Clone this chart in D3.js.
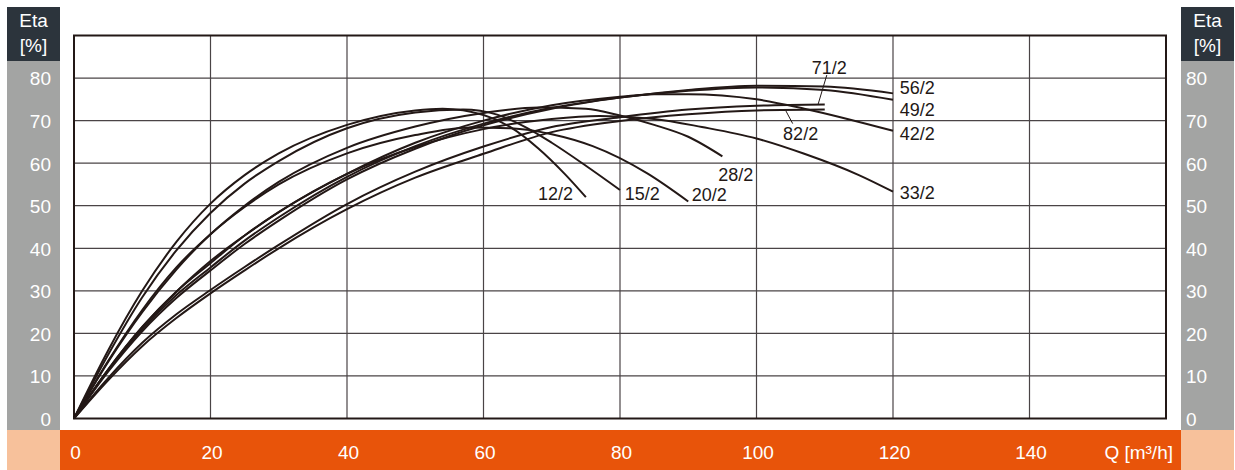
<!DOCTYPE html>
<html>
<head>
<meta charset="utf-8">
<script src="https://cdn.jsdelivr.net/npm/d3@7"></script>
<style>
html,body{margin:0;padding:0;background:#fff;}
svg{display:block;font-family:"Liberation Sans",Arial,sans-serif;}
</style>
</head>
<body>
<svg id="chart" width="1235" height="470"></svg>
<script>
// ---- data ----
const xTicks = [0, 20, 40, 60, 80, 100, 120, 140];
const yTicks = [0, 10, 20, 30, 40, 50, 60, 70, 80];
const xTitle = "Q [m³/h]";
const yTitle = ["Eta", "[%]"];
const seriesNames = ["12/2", "15/2", "20/2", "28/2", "33/2", "42/2", "49/2", "56/2", "71/2", "82/2"];

const q_12 = [0, 5, 10, 15, 20, 25, 30, 40, 50, 54, 60, 64, 68, 72, 75];
const eta_12 = [0, 16, 30, 41.5, 50.5, 57.2, 62.3, 69, 72.4, 72.8, 71.3, 68.4, 63.5, 57.3, 52];
const q_15 = [0, 5, 10, 15, 20, 25, 30, 40, 50, 57, 62, 66, 70, 75, 80];
const eta_15 = [0, 15, 28.5, 39.5, 48.3, 55.2, 60.5, 68.2, 71.9, 72.6, 71.4, 68.6, 64.8, 59.4, 53.7];
const q_20 = [0, 5, 10, 15, 20, 25, 30, 40, 50, 58, 64, 70, 76, 84, 90];
const eta_20 = [0, 13.5, 25.5, 35.5, 43.3, 49.7, 55, 62.3, 66.6, 68.4, 68.2, 66.8, 64, 57.6, 51];
const q_28 = [0, 5, 10, 15, 20, 25, 30, 40, 50, 60, 68, 75, 80, 85, 90, 95];
const eta_28 = [0, 13.3, 25, 35, 43.3, 50, 55.6, 63.6, 68.6, 71.8, 73.1, 72.8, 71.2, 69, 66.2, 61.6];
const q_33 = [0, 5, 10, 15, 20, 25, 30, 40, 50, 60, 70, 77, 85, 92, 100, 107, 115, 120];
const eta_33 = [0, 11.5, 21.5, 29.8, 37, 43, 48.5, 57.5, 63.8, 68, 70.4, 71.1, 70.4, 68.5, 65.8, 62.2, 57.2, 53.3];
const q_42 = [0, 5, 10, 15, 20, 25, 30, 40, 50, 60, 70, 80, 85, 90, 100, 107, 120];
const eta_42 = [0, 11.5, 21.5, 29.8, 36.5, 43, 48.5, 57.5, 64.8, 70, 73.6, 75.6, 76.2, 76.2, 75, 72.8, 67.6];
const q_49 = [0, 5, 10, 15, 20, 25, 30, 40, 50, 60, 70, 80, 90, 100, 110, 120];
const eta_49 = [0, 11.3, 21, 29, 35.5, 41.8, 47.3, 56.8, 64, 69.3, 73, 75.4, 77, 77.8, 77.2, 74.9];
const q_56 = [0, 5, 10, 15, 20, 25, 30, 40, 50, 60, 70, 80, 90, 100, 110, 120];
const eta_56 = [0, 11, 20.5, 28.3, 34.8, 41, 46.5, 56.2, 63.4, 68.9, 72.8, 75.4, 77.2, 78.2, 78, 76.4];
const q_71 = [0, 5, 10, 15, 20, 25, 30, 40, 50, 60, 70, 80, 90, 100, 110];
const eta_71 = [0, 9.5, 17.8, 24.5, 30.2, 35.6, 40.8, 50.4, 58, 63.9, 68.5, 70.8, 72.6, 73.5, 73.8];
const q_82 = [0, 5, 10, 15, 20, 25, 30, 40, 50, 60, 70, 80, 90, 100, 110];
const eta_82 = [0, 9, 17, 23.6, 29.4, 34.8, 40, 49.2, 56.6, 62.2, 67.3, 69.9, 71.5, 72.4, 72.6];

const qs = [q_12, q_15, q_20, q_28, q_33, q_42, q_49, q_56, q_71, q_82];
const etas = [eta_12, eta_15, eta_20, eta_28, eta_33, eta_42, eta_49, eta_56, eta_71, eta_82];

// label anchor points (Q, eta)
const labelQ = [68.0, 80.7, 90.5, 94.4, 121, 121, 121, 121, 108.1, 103.9];
const labelEta = [51.3, 51.3, 51.1, 55.8, 51.6, 65.4, 71.2, 76.25, 80.95, 65.4];

// ---- layout ----
const svg = d3.select("#chart");
const x = d3.scaleLinear().domain([0, 160]).range([74, 1166]);
const y = d3.scaleLinear().domain([0, 90]).range([418.5, 35.5]);

const C = {
  dark: "#2c343c", gray: "#a3a4a3", orange: "#e8540a", peach: "#f7c19b",
  line: "#231816", grid: "#4a4446"
};

// side panels
[[7, 60], [1181, 1234]].forEach(([x0, x1]) => {
  svg.append("rect").attr("x", x0).attr("y", 7).attr("width", x1 - x0).attr("height", 54).attr("fill", C.dark);
  svg.append("rect").attr("x", x0).attr("y", 61).attr("width", x1 - x0).attr("height", 369).attr("fill", C.gray);
  svg.append("rect").attr("x", x0).attr("y", 430).attr("width", x1 - x0).attr("height", 40).attr("fill", C.peach);
  const cx = (x0 + x1) / 2;
  svg.append("text").attr("x", cx).attr("y", 27).attr("text-anchor", "middle")
    .attr("fill", "#fff").attr("font-size", 19).text(yTitle[0]);
  svg.append("text").attr("x", cx).attr("y", 52).attr("text-anchor", "middle")
    .attr("fill", "#fff").attr("font-size", 19).text(yTitle[1]);
});
svg.append("rect").attr("x", 60).attr("y", 430).attr("width", 1121).attr("height", 40).attr("fill", C.orange);

// grid
const g = svg.append("g");
g.selectAll("line.h").data(yTicks.filter(d => d > 0)).join("line")
  .attr("x1", x(0)).attr("x2", x(160)).attr("y1", d => y(d)).attr("y2", d => y(d))
  .attr("stroke", C.grid).attr("stroke-width", 1.2);
g.selectAll("line.v").data(xTicks.filter(d => d > 0)).join("line")
  .attr("x1", d => x(d)).attr("x2", d => x(d)).attr("y1", y(0)).attr("y2", y(90))
  .attr("stroke", C.grid).attr("stroke-width", 1.2);
svg.append("rect").attr("x", x(0)).attr("y", y(90)).attr("width", x(160) - x(0)).attr("height", y(0) - y(90))
  .attr("fill", "none").attr("stroke", C.line).attr("stroke-width", 2);

// y axes (left & right)
const yAxisL = d3.axisLeft(y).tickValues(yTicks).tickSize(0).tickPadding(0);
const gl = svg.append("g").attr("transform", "translate(51,0)").call(yAxisL);
const yAxisR = d3.axisRight(y).tickValues(yTicks).tickSize(0).tickPadding(0);
const gr = svg.append("g").attr("transform", "translate(1186,0)").call(yAxisR);
[gl, gr].forEach(a => {
  a.select(".domain").remove();
  a.selectAll("text").attr("fill", "#fff").attr("font-size", 19)
    .attr("font-family", "'Liberation Sans', Arial, sans-serif").attr("dy", "0.36em");
});

// x axis
const xAxis = d3.axisBottom(x).tickValues(xTicks).tickSize(0).tickPadding(0);
const gx = svg.append("g").attr("transform", "translate(1,445)").call(xAxis);
gx.select(".domain").remove();
gx.selectAll("text").attr("fill", "#fff").attr("font-size", 19)
  .attr("font-family", "'Liberation Sans', Arial, sans-serif").attr("dy", "0.71em");
svg.append("text").attr("x", 1173).attr("y", 459).attr("text-anchor", "end")
  .attr("fill", "#fff").attr("font-size", 19).text(xTitle);

// curves
const lineGen = d3.line().x(d => x(d[0])).y(d => y(d[1])).curve(d3.curveMonotoneX);
const curves = svg.append("g").attr("fill", "none").attr("stroke", C.line).attr("stroke-width", 2);
seriesNames.forEach((name, i) => {
  const pts = qs[i].map((q, k) => [q, etas[i][k]]);
  curves.append("path").attr("d", lineGen(pts));
});

// leader lines for 71/2 and 82/2
svg.append("line").attr("x1", x(110.3)).attr("y1", y(80.7)).attr("x2", x(109)).attr("y2", y(73.7))
  .attr("stroke", C.line).attr("stroke-width", 1);
svg.append("line").attr("x1", x(105.3)).attr("y1", y(69.3)).attr("x2", x(104.3)).attr("y2", y(72.3))
  .attr("stroke", C.line).attr("stroke-width", 1);

// labels
svg.append("g").selectAll("text").data(seriesNames).join("text")
  .attr("x", (d, i) => x(labelQ[i])).attr("y", (d, i) => y(labelEta[i]))
  .attr("fill", C.line).attr("font-size", 18).text(d => d);
</script>
</body>
</html>
